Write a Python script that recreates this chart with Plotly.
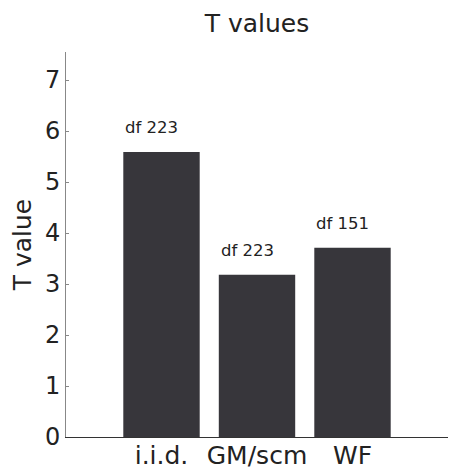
import plotly.graph_objects as go

categories = ["i.i.d.", "GM/scm", "WF"]
t_values = [5.59, 3.18, 3.71]
df_labels = ["df 223", "df 223", "df 151"]
y_ticks = [0, 1, 2, 3, 4, 5, 6, 7]

FONT = "DejaVu Sans"
TEXT_COLOR = "#222"
BAR_COLOR = "#37363b"
HALF_WIDTH = 0.4

positions = list(range(len(categories)))

fig = go.Figure(
    go.Bar(
        x=positions,
        y=t_values,
        width=2 * HALF_WIDTH,
        marker=dict(color=BAR_COLOR, line=dict(width=0)),
        hoverinfo="skip",
    )
)

# degrees-of-freedom labels, left-aligned with each bar's left edge
for pos, val, lab in zip(positions, t_values, df_labels):
    fig.add_annotation(
        x=pos - HALF_WIDTH, y=val, xref="x", yref="y",
        text=lab, showarrow=False, xanchor="left", yanchor="middle",
        yshift=24, font=dict(family=FONT, size=16.5, color=TEXT_COLOR),
    )

fig.add_annotation(
    x=-0.113, y=0.5, xref="paper", yref="paper",
    text="T value", textangle=-90, showarrow=False,
    xanchor="center", yanchor="middle",
    font=dict(family=FONT, size=25, color=TEXT_COLOR),
)

fig.update_layout(
    width=449, height=469,
    margin=dict(l=66, r=1, t=52, b=32, autoexpand=False),
    paper_bgcolor="white", plot_bgcolor="white",
    showlegend=False,
    title=dict(
        text="T values", x=0.5, xref="paper", y=1 - 23 / 469, yanchor="middle",
        font=dict(family=FONT, size=25, color=TEXT_COLOR),
    ),
    xaxis=dict(
        range=[-1, 3], tickvals=positions, ticktext=categories,
        showgrid=False, zeroline=False, showline=True, linecolor="#333",
        linewidth=1, ticks="", ticklabelstandoff=-4, automargin=False,
        tickfont=dict(family=FONT, size=25, color=TEXT_COLOR),
    ),
    yaxis=dict(
        range=[0, 7.55], tickvals=y_ticks, showgrid=False, zeroline=False,
        showline=True, linecolor="#888", linewidth=1, automargin=False,
        ticks="inside", ticklen=3, tickcolor="#888",
        tickfont=dict(family=FONT, size=24, color=TEXT_COLOR),
    ),
)

fig.write_html("out.html")
